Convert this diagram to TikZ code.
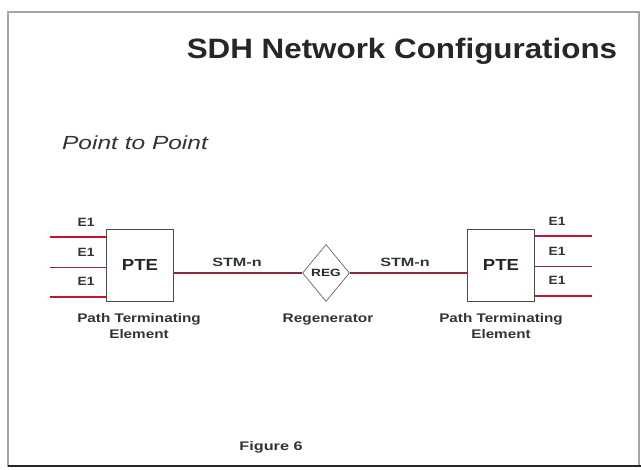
\documentclass[tikz,border=0pt]{standalone}
\usepackage{fontspec}
\setmainfont{Liberation Sans}
\usetikzlibrary{shapes.geometric}
\definecolor{linkred}{RGB}{200,20,50}
\definecolor{darkred}{RGB}{140,40,60}
\newcommand\hs[2][1.27]{\scalebox{#1}[1]{#2}}
\begin{document}
\begin{tikzpicture}[x=1pt, y=-1pt,
  every node/.style={font=\fontsize{10}{11}\selectfont, inner sep=0pt},
  pte/.style={draw=black!70, line width=0.9pt, minimum width=67pt, minimum height=72pt, font=\fontsize{16}{18}\selectfont\bfseries, text=black!85},
  regbox/.style={draw=black!60, line width=0.7pt, diamond, minimum width=47pt, minimum height=57pt, font=\fontsize{10.5}{12}\selectfont\bfseries, text=black!85},
  trib/.style={linkred, line width=1.3pt},
  link/.style={darkred, line width=1.1pt},
  lab/.style={font=\fontsize{12}{13}\selectfont\bfseries, text=black!80},
  caption/.style={font=\fontsize{12.5}{16}\selectfont\bfseries, text=black!80, align=center}]
  \useasboundingbox (0,0) rectangle (641,470);
  % frame
  \draw[gray!70, line width=1.5pt] (8,467) -- (8,12) -- (639,12) -- (639,467);
  \draw[black!85, line width=2.5pt] (8,466) -- (641,466);
  % headings
  \node[font=\fontsize{28}{30}\selectfont\bfseries, text=black!85] (title) at (402,51) {\hs[1.12]{SDH Network Configurations}};
  \node[font=\fontsize{19}{21}\selectfont\itshape, text=black!80] (topo) at (135,143) {\hs[1.29]{Point to Point}};
  % equipment
  \node[pte] (pteA) at (140,265) {\hs[1.16]{PTE}};
  \node[pte] (pteB) at (501,265) {\hs[1.16]{PTE}};
  \node[regbox] (reg) at (326,273) {\hs[1.3]{REG}};
  % tributaries
  \coordinate (a1) at (50,237); \coordinate (a2) at (50,267); \coordinate (a3) at (50,297);
  \coordinate (b1) at (592,236); \coordinate (b2) at (592,266); \coordinate (b3) at (592,296);
  \draw[trib, line width=2.4pt] (a1) -- (a1 -| pteA.west);
  \draw[link, line width=0.8pt] (a2) -- (a2 -| pteA.west);
  \draw[trib, line width=1.8pt] (a3) -- (a3 -| pteA.west);
  \draw[trib, line width=2.4pt] (b1) -- (b1 -| pteB.east);
  \draw[link, line width=0.8pt] (b2) -- (b2 -| pteB.east);
  \draw[trib, line width=1.8pt] (b3) -- (b3 -| pteB.east);
  \node[lab] (ea1) at (86,222) {\hs[1.15]{E1}};
  \node[lab] (ea2) at (86,252) {\hs[1.15]{E1}};
  \node[lab] (ea3) at (86,281) {\hs[1.15]{E1}};
  \node[lab] (eb1) at (557,221) {\hs[1.15]{E1}};
  \node[lab] (eb2) at (557,251) {\hs[1.15]{E1}};
  \node[lab] (eb3) at (557,280) {\hs[1.15]{E1}};
  % aggregate links
  \draw[link] (pteA.east |- reg.west) -- (reg.west);
  \draw[link] (reg.east) -- (pteB.west |- reg.east);
  \node[lab] (stmA) at (237,262) {\hs[1.35]{STM-n}};
  \node[lab] (stmB) at (405,262) {\hs[1.35]{STM-n}};
  % captions
  \node[caption] (capA) at (139,326) {\hs[1.22]{Path Terminating}\\\hs[1.22]{Element}};
  \node[caption] (capR) at (328,320) {\hs[1.23]{Regenerator}};
  \node[caption] (capB) at (501,326) {\hs[1.22]{Path Terminating}\\\hs[1.22]{Element}};
  \node[caption] (fig) at (271,447) {\hs[1.3]{Figure 6}};
\end{tikzpicture}
\end{document}
